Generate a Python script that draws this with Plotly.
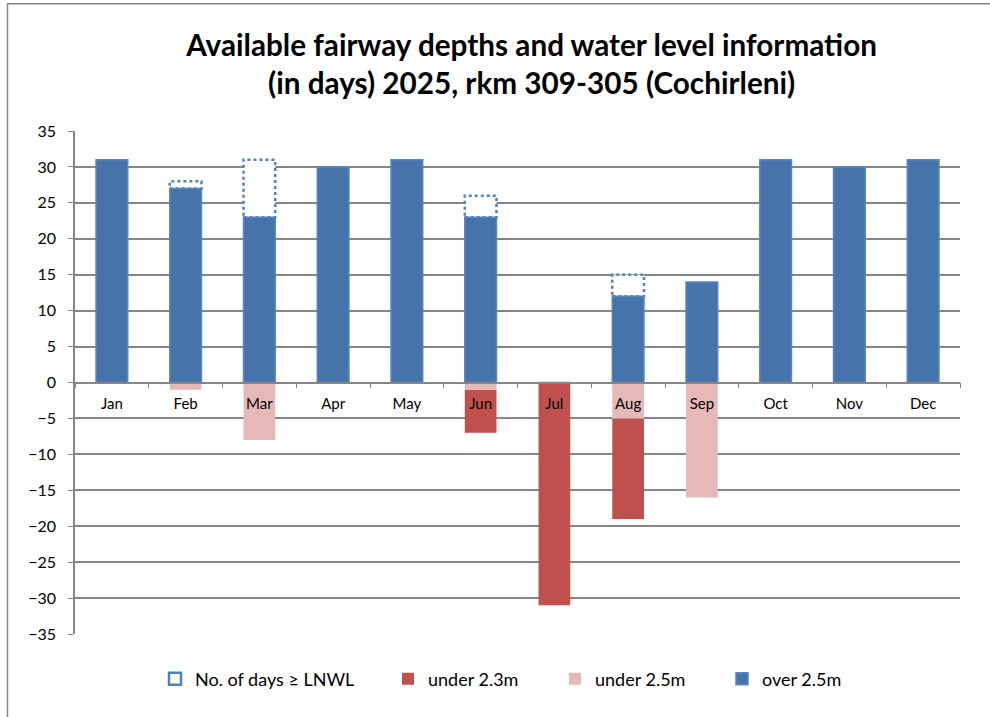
import plotly.graph_objects as go

months = ["Jan", "Feb", "Mar", "Apr", "May", "Jun", "Jul", "Aug", "Sep", "Oct", "Nov", "Dec"]
lnwl = [31, 28, 31, 30, 31, 26, 0, 15, 14, 31, 30, 31]
over_25 = [31, 27, 23, 30, 31, 23, 0, 12, 14, 31, 30, 31]
under_25 = [0, -1, -8, 0, 0, -1, 0, -5, -16, 0, 0, 0]
under_23 = [0, 0, 0, 0, 0, -6, -31, -14, 0, 0, 0, 0]

FONT = "Lato"
BW = 0.43
GRAY = "#868686"

fig = go.Figure()
fig.add_trace(go.Bar(
    x=months, y=under_23, base=under_25, name="under 2.3m", width=BW,
    marker=dict(color="#C0504D", line=dict(width=0)), legendrank=2, legendwidth=122,
))
fig.add_trace(go.Bar(
    x=months, y=under_25, name="under 2.5m", width=BW,
    marker=dict(color="#E6B9B8", line=dict(width=0)), legendrank=3, legendwidth=122,
))
fig.add_trace(go.Bar(
    x=months, y=over_25, name="over 2.5m", width=BW,
    marker=dict(color="#4674AA", line=dict(color="#5A86BE", width=1.5)), legendrank=4,
    legendwidth=122,
))

first = True
for i, (v, b) in enumerate(zip(lnwl, over_25)):
    if v <= b:
        continue
    fig.add_shape(
        type="rect", xref="x", yref="y",
        x0=i - BW / 2, x1=i + BW / 2, y0=b, y1=v,
        line=dict(color="#4F81BD", width=2.5, dash="dot"),
        fillcolor="white", layer="between",
        showlegend=first, name="No. of days ≥ LNWL", legendrank=1,
        legendgroup="lnwl", legendwidth=188,
    )
    first = False

# outer chart frame (left and top edges visible)
fig.add_shape(
    type="rect", xref="paper", yref="paper",
    x0=(7.5 - 75) / 885, x1=1.2, y0=-0.3, y1=(634 - 3.7) / 503,
    line=dict(color=GRAY, width=1.5), fillcolor="rgba(0,0,0,0)",
    layer="below",
)

fig.update_layout(
    width=990, height=717,
    barmode="overlay",
    paper_bgcolor="white", plot_bgcolor="white",
    margin=dict(l=75, r=30, t=131, b=83),
    font=dict(family=FONT, size=15, color="#000000"),
    title=dict(
        text="<b>Available fairway depths and water level information<br>(in days) 2025, rkm 309-305 (Cochirleni)</b>",
        x=0.537, xanchor="center", y=0.9223, yanchor="middle",
        font=dict(family=FONT, size=29.7, color="#000000"),
    ),
    xaxis=dict(
        anchor="free", position=0.5,
        showline=True, linecolor=GRAY, linewidth=1.5,
        ticks="outside", tickson="boundaries", ticklen=5, tickcolor=GRAY,
        showgrid=False, tickfont=dict(size=15), ticklabelstandoff=8,
        zeroline=False,
    ),
    yaxis=dict(
        range=[-35, 35], dtick=5, tick0=0,
        showline=True, linecolor=GRAY, linewidth=1.5,
        ticks="outside", ticklen=5, tickcolor=GRAY,
        showgrid=True, gridcolor=GRAY, gridwidth=1.5,
        zeroline=False, tickfont=dict(size=16), ticklabelstandoff=9,
    ),
    legend=dict(
        orientation="h", xref="paper", yref="paper",
        x=(175 - 20 - 75) / 885, xanchor="left", y=(634 - 679) / 503, yanchor="middle",
        font=dict(size=18), traceorder="normal",
    ),
)

fig.write_html(
    "out.html",
    config={"displayModeBar": False},
    post_script="document.body.style.margin='0px';",
)
